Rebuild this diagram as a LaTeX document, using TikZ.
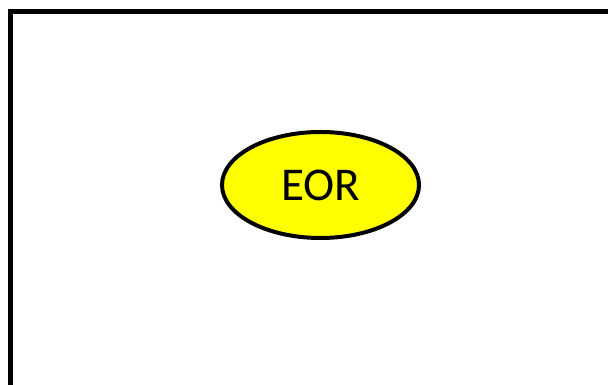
\documentclass[tikz,border=0pt]{standalone}
\usepackage{fontspec}
\setmainfont{Carlito}
\usetikzlibrary{shapes.geometric}
\definecolor{eoryellow}{RGB}{255,255,0}

\begin{document}
\begin{tikzpicture}[x=1pt, y=1pt, every node/.style={ellipse, draw=black, fill=eoryellow, line width=4pt, inner sep=0pt, minimum width=197pt, minimum height=106pt, font=\fontsize{47}{52}\selectfont}]
	\clip (0,0) rectangle (608,385);
	\draw[line width=5pt] (10.5,-20) -- (10.5,373.5) -- (630,373.5);
	\node(eor) at (320.5,200){\raisebox{-3pt}{EOR}};
\end{tikzpicture}
\end{document}
